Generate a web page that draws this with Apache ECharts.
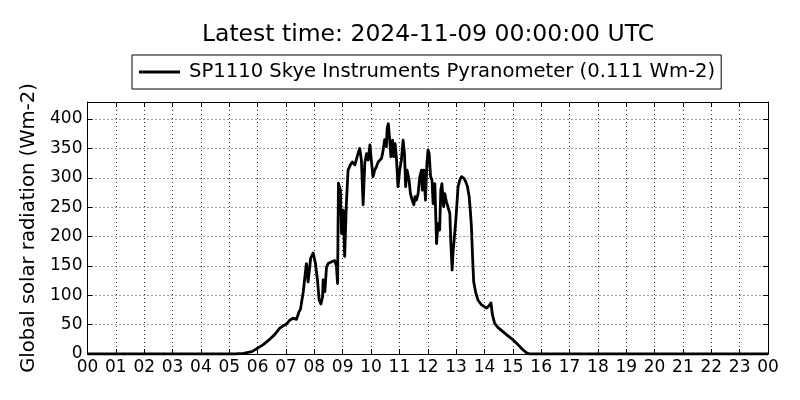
<!DOCTYPE html>
<html>
<head>
<meta charset="utf-8">
<script src="https://cdn.jsdelivr.net/npm/echarts@6/dist/echarts.min.js"></script>
<style>
html,body{margin:0;padding:0;background:#fff;}
#chart{width:800px;height:400px;}
</style>
</head>
<body>
<div id="chart"></div>
<script>
// Time of day in hours (UTC)
var hours = [0, 5.2, 5.5, 5.8, 6.0, 6.2, 6.4, 6.6, 6.78, 6.9, 7.02, 7.14, 7.25, 7.37, 7.46, 7.51, 7.61, 7.68, 7.72, 7.78,
  7.87, 7.96, 8.04, 8.11, 8.17, 8.23, 8.29, 8.31, 8.37, 8.43, 8.49, 8.55, 8.61, 8.66, 8.72, 8.78, 8.82, 8.85, 8.92, 8.96,
  9.02, 9.07, 9.13, 9.19, 9.27, 9.34, 9.43, 9.49, 9.54, 9.60, 9.66, 9.72, 9.78, 9.84, 9.90, 9.96, 10.02, 10.07, 10.13, 10.19,
  10.25, 10.31, 10.37, 10.42, 10.48, 10.54, 10.57, 10.61, 10.66, 10.70, 10.76, 10.80, 10.85, 10.90, 10.95, 11.01, 11.07, 11.13, 11.18, 11.22,
  11.27, 11.34, 11.39, 11.45, 11.51, 11.55, 11.60, 11.66, 11.72, 11.78, 11.81, 11.86, 11.92, 11.97, 12.01, 12.05, 12.10, 12.15, 12.19, 12.25,
  12.31, 12.36, 12.42, 12.46, 12.50, 12.56, 12.60, 12.66, 12.72, 12.78, 12.81, 12.86, 12.89, 12.93, 12.99, 13.03, 13.07, 13.13, 13.19, 13.24,
  13.28, 13.34, 13.40, 13.46, 13.50, 13.54, 13.58, 13.62, 13.69, 13.77, 13.89, 14.07, 14.16, 14.23, 14.28, 14.36, 14.48, 14.65, 14.83, 15.01,
  15.18, 15.34, 15.48, 15.6, 24];
// Global solar radiation (Wm-2)
var radiation = [0, 0, 1, 4, 10, 16, 24, 33, 44, 48, 51, 58, 61, 59, 72, 76, 106, 137, 154, 123,
  163, 172, 154, 126, 92, 85, 97, 126, 106, 148, 154, 151, 157, 154, 159, 149, 120, 291, 279, 205,
  245, 166, 256, 313, 322, 327, 322, 319, 341, 350, 330, 254, 325, 341, 330, 356, 325, 302, 313, 319,
  327, 330, 333, 345, 365, 353, 385, 392, 364, 336, 364, 336, 358, 330, 285, 313, 330, 364, 341, 285,
  313, 296, 273, 262, 254, 268, 262, 273, 302, 313, 279, 313, 262, 325, 347, 341, 302, 296, 256, 290,
  188, 222, 211, 279, 290, 251, 273, 259, 262, 239, 194, 143, 171, 194, 228, 256, 285, 296, 302, 305,
  299, 293, 285, 268, 245, 217, 166, 123, 105, 92, 84, 78, 82, 87, 67, 52, 45, 38, 31, 24,
  16, 8, 2, 0, 0];
// x-axis tick labels
var hourLabels = ['00','01','02','03','04','05','06','07','08','09','10','11','12','13','14','15','16','17','18','19','20','21','22','23','00'];
var seriesName = 'SP1110 Skye Instruments Pyranometer (0.111 Wm-2)';
var titleText = 'Latest time: 2024-11-09 00:00:00 UTC';
var yName = 'Global solar radiation (Wm-2)';

var pts = hours.map(function (h, i) { return [h, radiation[i]]; });
var FONT = 'DejaVu Sans';
var grid = {left: 87.5, right: 32, top: 102, bottom: 46};
var dotted = {show: true, lineStyle: {color: '#000', type: [1, 3], width: 1, opacity: 0.8}};
var boxLine = {show: true, onZero: false, lineStyle: {color: '#000', width: 1}};
var tickIn = {show: true, inside: true, length: 5, lineStyle: {color: '#000', width: 1}};

var chart = echarts.init(document.getElementById('chart'), null, {renderer: 'canvas'});
chart.setOption({
  animation: false,
  backgroundColor: '#fff',
  title: {
    text: titleText, left: 428, top: 23, textAlign: 'center', padding: 0,
    textStyle: {fontFamily: FONT, fontSize: 23.5, fontWeight: 'normal', color: '#000'}
  },
  legend: {
    data: [seriesName], left: 132, top: 55,
    borderColor: '#000', borderWidth: 1, padding: [7, 6, 7, 7],
    icon: 'rect', itemWidth: 41, itemHeight: 3,
    textStyle: {fontFamily: FONT, fontSize: 19.6, color: '#000', padding: [0, 0, 0, 4]}
  },
  grid: grid,
  xAxis: [{
    type: 'value', min: 0, max: 24, interval: 1, position: 'bottom',
    axisLine: boxLine, axisTick: tickIn, splitLine: dotted,
    axisLabel: {fontFamily: FONT, fontSize: 17, color: '#000', margin: 5,
      formatter: function (v) { return hourLabels[Math.round(v)]; }}
  }, {
    type: 'value', min: 0, max: 24, interval: 1, position: 'top',
    axisLine: boxLine, axisTick: tickIn, splitLine: {show: false}, axisLabel: {show: false}
  }],
  yAxis: [{
    type: 'value', min: 0, max: 429, interval: 50, position: 'left',
    name: yName, nameLocation: 'middle', nameGap: 47,
    nameTextStyle: {fontFamily: FONT, fontSize: 19.6, color: '#000'},
    axisLine: boxLine, axisTick: tickIn, splitLine: dotted,
    axisLabel: {fontFamily: FONT, fontSize: 17, color: '#000', margin: 5, showMaxLabel: false}
  }, {
    type: 'value', min: 0, max: 429, interval: 50, position: 'right',
    axisLine: boxLine, axisTick: tickIn, splitLine: {show: false}, axisLabel: {show: false}
  }],
  series: [{
    name: seriesName, type: 'line', data: pts, xAxisIndex: 0, yAxisIndex: 0,
    showSymbol: false, symbol: 'none',
    lineStyle: {color: '#000', width: 2.8, join: 'round'}, itemStyle: {color: '#000'}
  }]
});
</script>
</body>
</html>
